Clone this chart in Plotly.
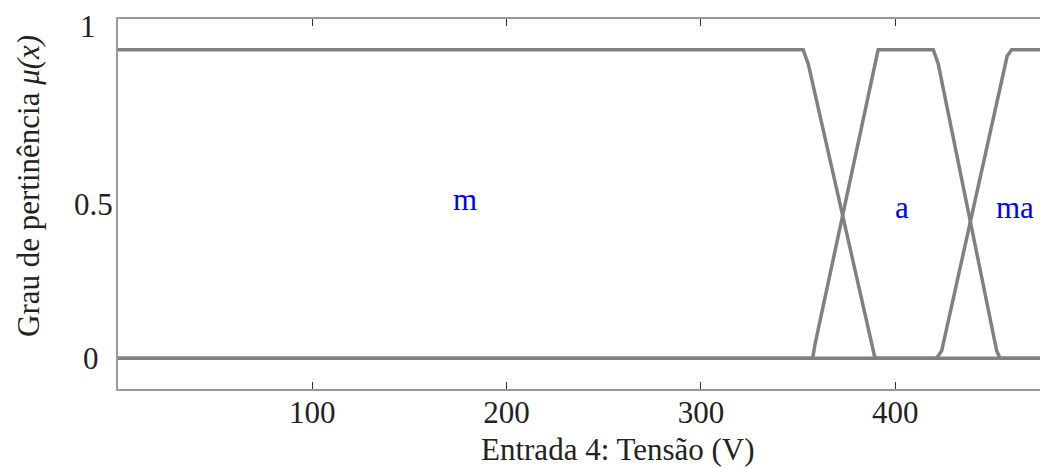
import plotly.graph_objects as go

# Membership functions (vertices)
m_x = [0, 352.6, 355.2, 387.8, 389.6, 474.5]
m_y = [1, 1, 0.955, 0.045, 0, 0]
a_x = [0, 357.5, 358.7, 391.2, 419.6, 422.1, 452.2, 453.9, 474.5]
a_y = [0, 0, 0.045, 1, 1, 0.955, 0.024, 0, 0]
ma_x = [0, 421.3, 423.9, 457.6, 459.9, 474.5]
ma_y = [0, 0, 0.024, 0.98, 1, 1]

labels = ["m", "a", "ma"]
label_x = [178.5, 403.5, 461.5]
label_y = [0.514, 0.488, 0.488]

x_ticks = [100, 200, 300, 400]
y_tickvals = [0, 0.5, 1.075]
y_ticktext = ["0", "0.5", "1"]
y_label_left_px = [81, 72, 78]   # left edge of each y label as drawn in the reference

LINE = "#808080"
FONT = "Liberation Serif"
FS = 31

W, H = 1040, 468
ML, MR, MT, MB = 118, 0, 19, 79
pw = W - ML - MR
ph = H - MT - MB


def px_to_paper(px, py):
    return (px - ML) / pw, (H - MB - py) / ph


fig = go.Figure()
for xs, ys in [(m_x, m_y), (a_x, a_y), (ma_x, ma_y)]:
    fig.add_trace(go.Scatter(x=xs, y=ys, mode="lines",
                             line=dict(color=LINE, width=3.5),
                             showlegend=False, hoverinfo="skip"))

for t, x, y in zip(labels, label_x, label_y):
    fig.add_annotation(x=x, y=y, xref="x", yref="y", text=t, showarrow=False,
                       font=dict(family=FONT, size=FS, color="#0000ff"),
                       xanchor="center", yanchor="middle")

# y tick labels (placed like the reference)
for t, v, lp in zip(y_ticktext, y_tickvals, y_label_left_px):
    fig.add_annotation(x=(lp - ML) / pw, y=v, xref="paper", yref="y", text=t,
                       showarrow=False, xanchor="left", yanchor="middle",
                       font=dict(family=FONT, size=FS, color="#222"))

# axis titles
tx, ty = px_to_paper(618, 449)
fig.add_annotation(x=tx, y=ty, xref="paper", yref="paper", text="Entrada 4: Tensão (V)",
                   showarrow=False, font=dict(family=FONT, size=FS, color="#222"),
                   xanchor="center", yanchor="middle")
tx, ty = px_to_paper(28, 186)
fig.add_annotation(x=tx, y=ty, xref="paper", yref="paper",
                   text="Grau de pertinência <i>μ(x)</i>", textangle=-90,
                   showarrow=False, font=dict(family=FONT, size=FS, color="#222"),
                   xanchor="center", yanchor="middle")

fig.update_layout(
    width=W, height=H,
    margin=dict(l=ML, r=MR, t=MT, b=MB, autoexpand=False),
    plot_bgcolor="white", paper_bgcolor="white",
    font=dict(family=FONT, size=FS, color="#222"),
)

fig.update_xaxes(range=[0, 474.5], tickvals=x_ticks, ticks="inside", ticklen=7,
                 tickcolor="#333", tickwidth=1, showline=True, linecolor="#999",
                 linewidth=1.5, mirror="ticks", showgrid=False, zeroline=False,
                 automargin=False, ticklabelstandoff=-5,
                 tickfont=dict(family=FONT, size=FS, color="#222"))
fig.update_yaxes(range=[-0.1, 1.1], tickvals=y_tickvals, showticklabels=False, ticks="",
                 showline=True, linecolor="#999", linewidth=1.5, mirror=False,
                 showgrid=False, zeroline=False, automargin=False)

fig.write_html("out.html", config={"displayModeBar": False},
               post_script="document.body.style.margin='0';document.body.style.overflow='hidden';")
